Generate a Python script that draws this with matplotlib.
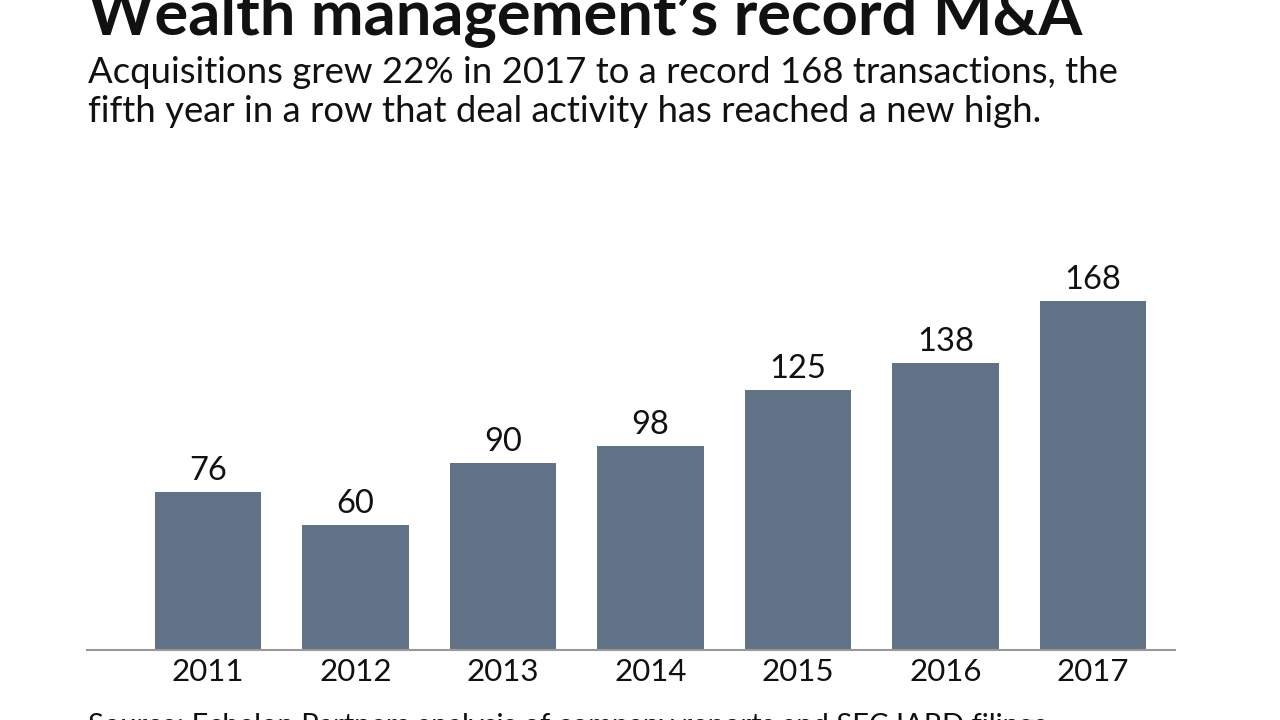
import matplotlib
matplotlib.use('Agg')
import matplotlib.pyplot as plt

# Data
years = ['2011', '2012', '2013', '2014', '2015', '2016', '2017']
deals = [76, 60, 90, 98, 125, 138, 168]

plt.rcParams['font.family'] = ['Lato', 'DejaVu Sans']

fig = plt.figure(figsize=(12.8, 7.2), dpi=100)
ax = fig.add_axes([0.068, 0.0972, 0.85, 0.5486])

x = range(len(years))
bars = ax.bar(x, deals, width=0.725, color='#627286')

for xi, v in zip(x, deals):
    ax.text(xi, v + 3, str(v), ha='center', va='bottom', fontsize=23.5, color='#111111')

ax.set_xlim(-0.82, 6.556)
ax.set_ylim(0, 190)
ax.set_xticks(list(x))
ax.set_xticklabels(years, fontsize=22.5, color='#111111')
ax.tick_params(axis='x', length=0, pad=6)
ax.set_yticks([])
for s in ['top', 'right', 'left']:
    ax.spines[s].set_visible(False)
ax.spines['bottom'].set_color('#999999')
ax.spines['bottom'].set_linewidth(1.5)

# Title, subtitle, source
fig.text(88 / 1280, 1 - 35 / 720, "Wealth management\u2019s record M&A",
         fontsize=45.5, fontweight='bold', ha='left', va='baseline', color='#111111')
fig.text(88 / 1280, 1 - 83 / 720,
         "Acquisitions grew 22% in 2017 to a record 168 transactions, the",
         fontsize=26.3, ha='left', va='baseline', color='#111111')
fig.text(88 / 1280, 1 - 122 / 720,
         "fifth year in a row that deal activity has reached a new high.",
         fontsize=26.3, ha='left', va='baseline', color='#111111')
fig.text(88 / 1280, 1 - 734 / 720,
         "Source: Echelon Partners analysis of company reports and SEC IARD filings",
         fontsize=21, ha='left', va='baseline', color='#111111')

fig.savefig('out.png', dpi=100)
